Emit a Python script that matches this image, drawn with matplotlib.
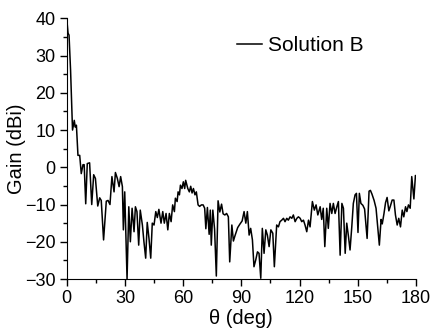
import matplotlib
matplotlib.use('Agg')
import matplotlib.pyplot as plt
from matplotlib.ticker import MultipleLocator

plt.rcParams['font.family'] = ['Liberation Sans', 'DejaVu Sans']

# gain pattern (theta in deg, gain in dBi)
theta = [0, 0.7, 1.2, 2.0, 3.0, 3.9, 4.4, 5.0, 5.8, 6.7, 7.5, 8.4, 9.0, 9.8, 10.6,
         11.8, 12.9, 13.9, 14.8, 16.0, 17.0, 17.8, 19.0, 20.4, 21.3, 22.3, 23.3,
         24.4, 25.1, 26.1, 27.0, 27.8, 28.7, 29.2, 29.9, 31.1, 32.0, 32.8, 33.7,
         34.7, 35.4, 36.2, 37.1, 37.9, 39.0, 39.8, 40.7, 41.5, 42.4, 43.3, 44.1,
         45.0, 45.9, 46.7, 47.5, 48.6, 49.5, 50.3, 51.2, 52.1, 52.9, 53.8, 54.6,
         55.5, 56.0, 56.9, 57.4, 58.1, 58.6, 59.4, 60.1, 60.8, 61.3, 62.4, 63.2,
         63.9, 64.6, 65.3, 66.1, 66.8, 67.7, 68.5, 69.4, 70.3, 71.1, 71.7, 72.5,
         73.4, 74.0, 74.5, 75.3, 76.2, 77.1, 78.0, 78.9, 79.8, 80.6, 81.5, 82.4,
         83.3, 84.0, 85.1, 85.9, 86.7, 88.1, 89.2, 90.4, 91.4, 92.3, 93.1, 94.0,
         94.8, 95.7, 96.5, 97.4, 98.3, 99.1, 100.0, 100.8, 101.7, 102.6, 103.4,
         104.3, 105.2, 106.2, 107.0, 108.2, 109.1, 109.9, 110.8, 111.7, 112.5,
         113.4, 114.2, 115.1, 116.0, 116.8, 117.7, 118.6, 119.4, 120.3, 121.1,
         122.0, 122.8, 123.7, 124.6, 125.4, 126.6, 127.6, 128.5, 129.4, 130.6,
         131.4, 132.2, 133.0, 134.0, 134.8, 135.7, 136.6, 137.4, 138.3, 139.2,
         140.0, 140.9, 141.8, 142.6, 143.5, 144.3, 145.2, 146.0, 146.9, 147.7,
         148.6, 149.3, 150.1, 150.8, 151.6, 152.6, 153.5, 154.8, 155.8, 156.5,
         157.3, 158.4, 159.4, 160.3, 161.1, 162.0, 162.6, 163.5, 164.3, 165.1,
         166.0, 166.8, 167.7, 168.6, 169.4, 170.3, 171.1, 172.0, 172.9, 173.7,
         174.6, 175.3, 176.1, 177.0, 177.8, 178.9, 179.7, 180.0]
gain = [40, 36, 35.5, 26, 10, 12.6, 10.8, 11.3, 3.2, 3.2, -1.7, 0.7, 0.7, -9.8, 1.0,
        1.2, -10, -2, -3, -10.4, -8.2, -8.9, -19.5, -9.1, -8.9, -10, -2.5,
        -6.6, -1.4, -3, -5.2, -2.5, -5.2, -16.8, -6.6, -30, -10.6, -20, -11,
        -17.3, -10.6, -11.9, -20.9, -11.5, -15.5, -20, -24.4, -14.8, -19.1, -24.4, -15,
        -15.5, -11.9, -13.5, -11.3, -15, -11.9, -15, -12.4, -16.8, -12.4, -14.6, -10.1,
        -11.9, -8.3, -9.2, -6.6, -7.4, -4.8, -5.7, -3.9, -5.7, -3.5, -5.7, -6.6,
        -5.1, -6.9, -5.7, -7.4, -6.6, -10.1, -10.5, -10.1, -10.1, -11, -16.5, -10.8,
        -18, -11.5, -20.9, -11.5, -16.6, -29.2, -9, -12, -9.9, -12.5, -12.8, -12.4,
        -13.3, -25.4, -15.5, -19.8, -18.4, -16.2, -15.3, -14.4, -11.9, -15, -11.9, -18.2,
        -16.4, -19.5, -26.7, -24.9, -22.7, -23.1, -29.8, -16.4, -23.1, -16.8, -18.2,
        -21.3, -16.8, -17.7, -26.7, -15.5, -16, -14.6, -14.2, -13.7, -14.6,
        -13.7, -14.2, -13.3, -13.7, -12.8, -14.6, -13.7, -13.3, -13.7, -14.6,
        -14.2, -15.5, -17.3, -14.2, -16.0, -9.2, -11.5, -10.1, -12.8, -10.6,
        -14, -11, -21.3, -11, -16.4, -9.7, -12.4, -9.7, -12.4, -10.6,
        -9.2, -23.6, -9.7, -11, -23.1, -15, -18.6, -22.2, -16, -9.7,
        -7.4, -7.0, -17.5, -7.0, -9.7, -10.2, -11.2, -19.1, -6.4, -6.2,
        -7.2, -8.9, -11, -16.4, -20.9, -14, -15.2, -12.4, -9.5, -8.1,
        -11.7, -10.4, -8.8, -8.8, -12.8, -15.5, -13.7, -16, -11.5, -13.3,
        -10.6, -11.9, -10.1, -11, -2.5, -8.5, -2.2, -2.5]

fig = plt.figure(figsize=(4.32, 3.30), dpi=100)
ax = fig.add_axes([0.1544, 0.1545, 0.8086, 0.79])

ax.plot(theta, gain, color='black', linewidth=1.1, label='Solution B')

ax.set_xlim(0, 180)
ax.set_ylim(-30, 40)
ax.xaxis.set_major_locator(MultipleLocator(30))
ax.xaxis.set_minor_locator(MultipleLocator(15))
ax.yaxis.set_major_locator(MultipleLocator(10))
ax.yaxis.set_minor_locator(MultipleLocator(5))
ax.tick_params(which='major', direction='out', length=5, width=1, labelsize=13, pad=3)
ax.tick_params(which='minor', direction='out', length=3, width=1)

ax.spines['top'].set_visible(False)
ax.spines['right'].set_visible(False)

ax.set_xlabel('\u03b8 (deg)', fontsize=14.5, labelpad=1.5)
ax.set_ylabel('Gain (dBi)', fontsize=14.5, labelpad=-1)

ax.legend(loc='center left', bbox_to_anchor=(0.4875, 0.894), frameon=False,
          fontsize=15, borderpad=0, borderaxespad=0, handlelength=1.2,
          handletextpad=0.3)

fig.savefig('out.png', dpi=100)
